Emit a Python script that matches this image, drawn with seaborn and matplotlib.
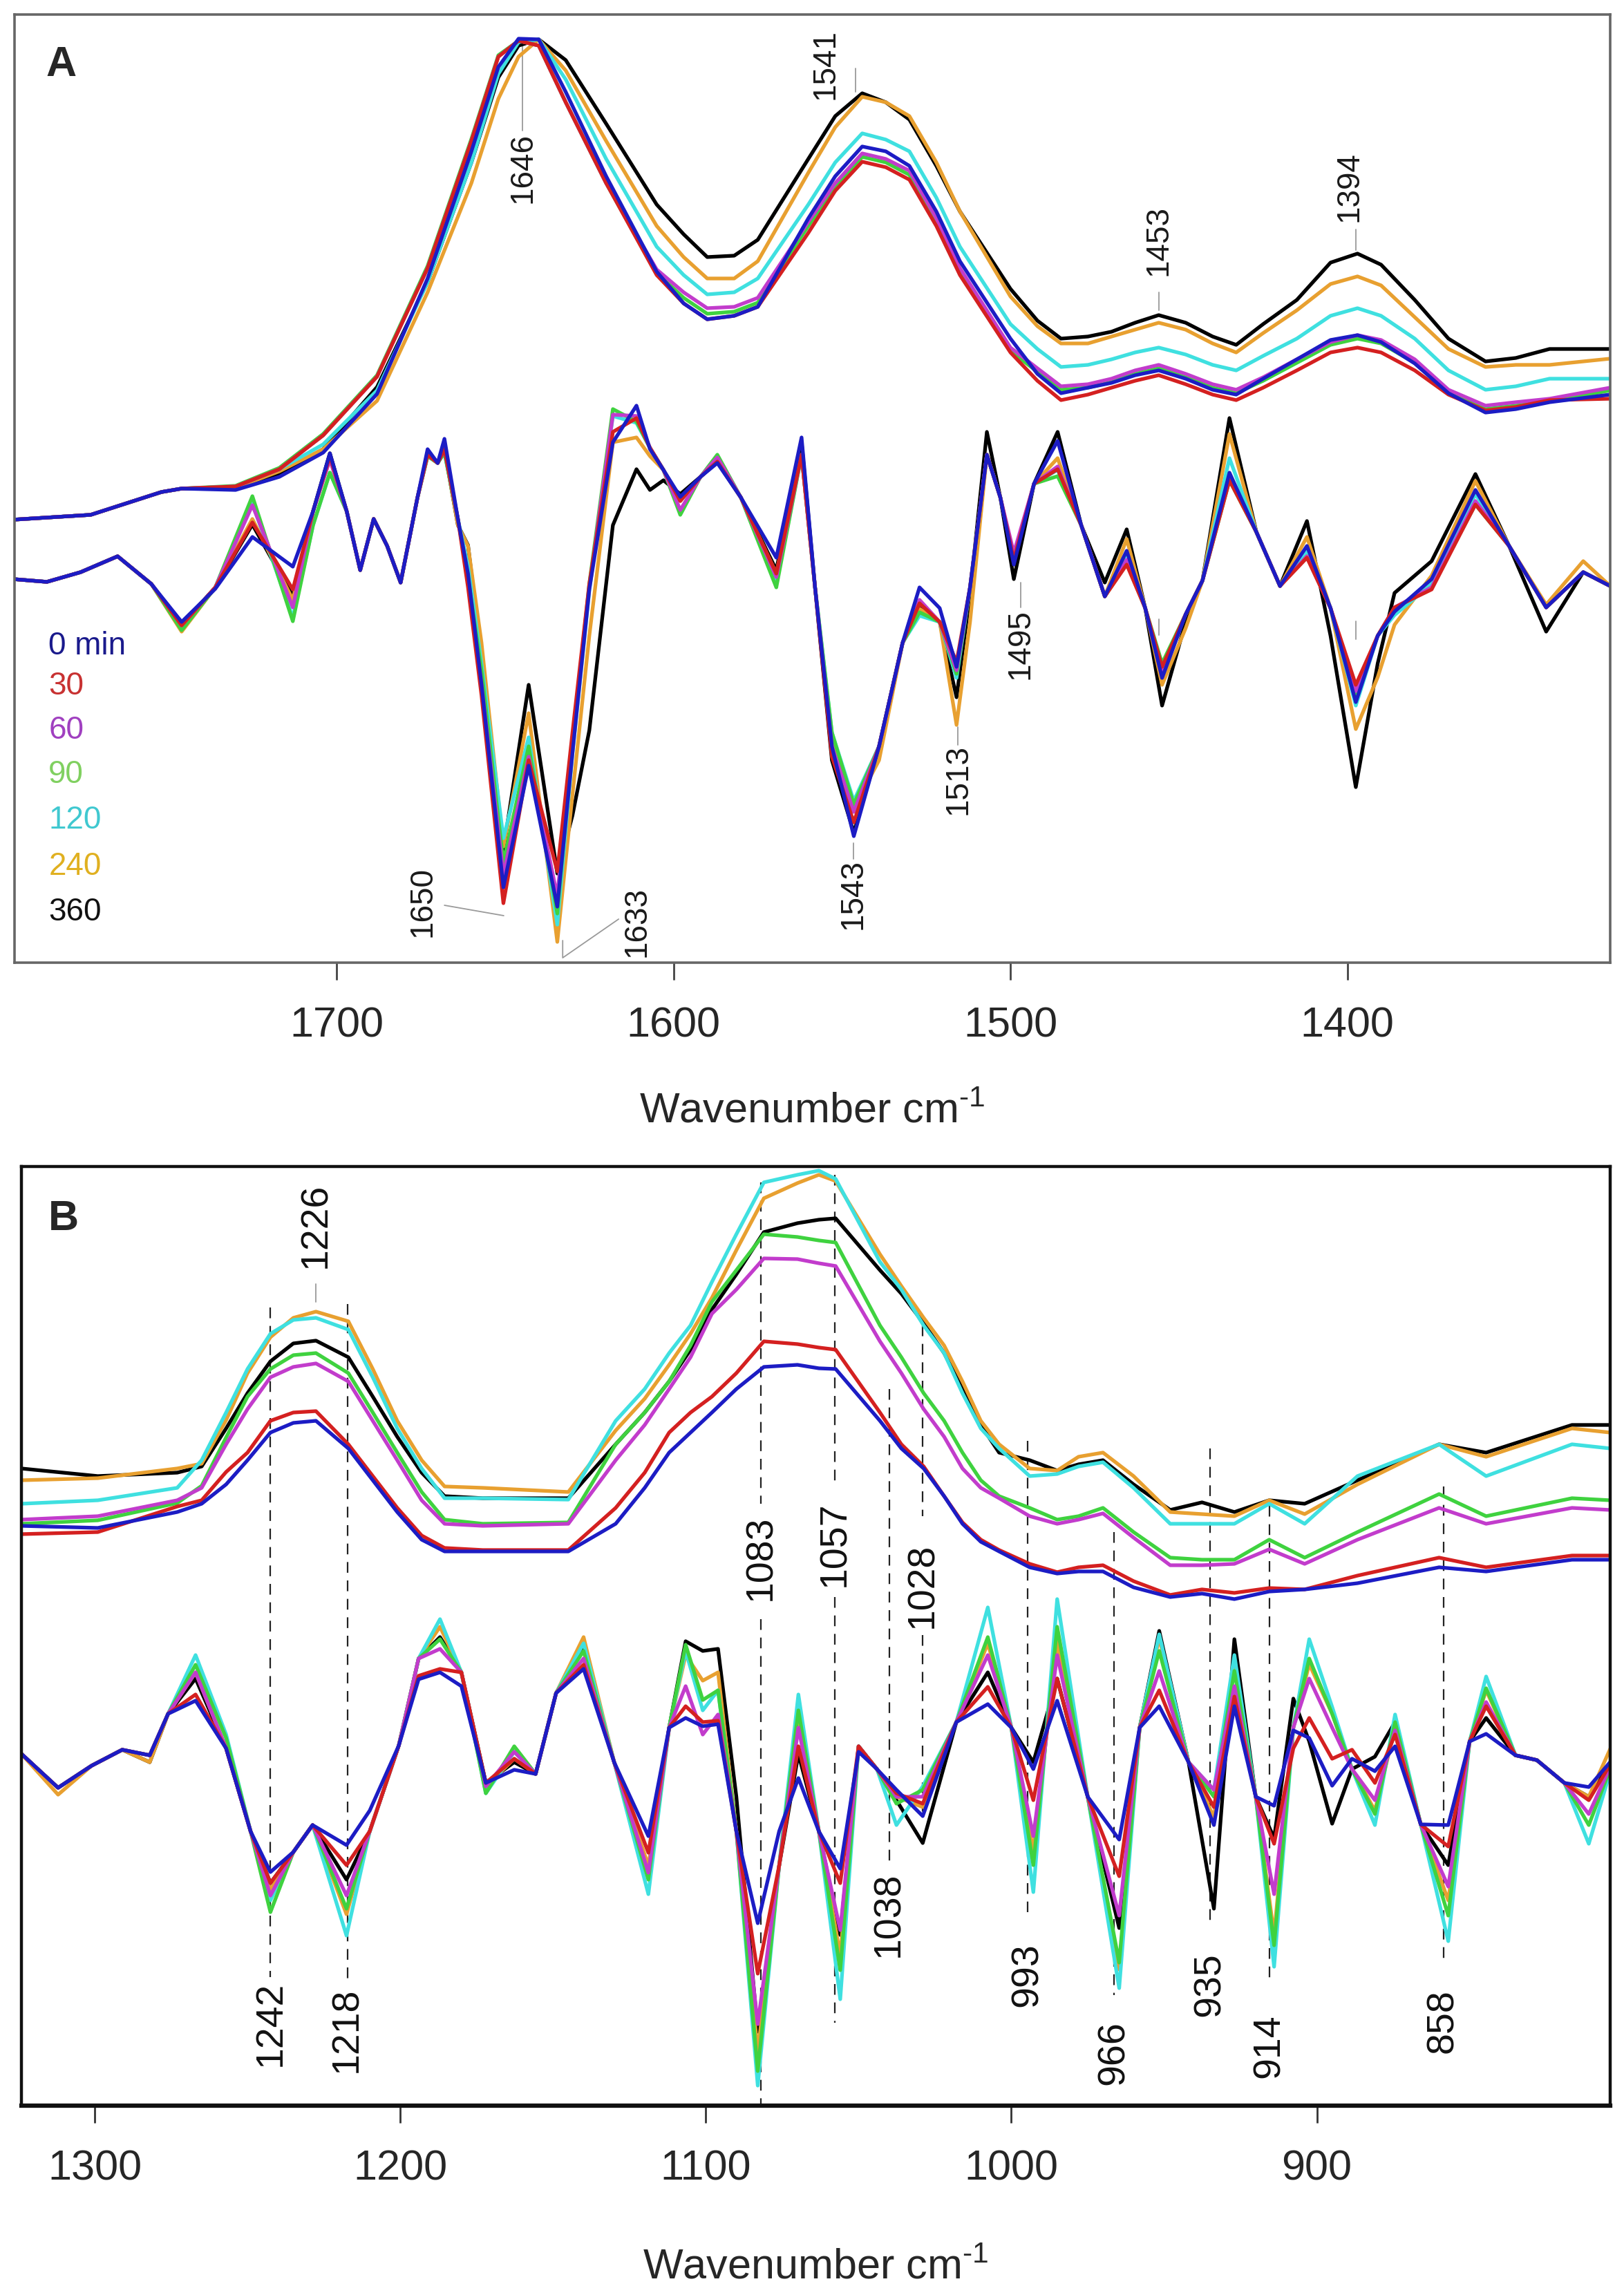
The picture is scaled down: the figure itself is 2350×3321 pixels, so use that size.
import pandas as pd
import matplotlib
matplotlib.use("Agg")
import matplotlib.pyplot as plt
import seaborn as sns

# ---------------- data (absorbance / 2nd derivative, arbitrary units) ----------------
times = ["0 min", "30", "60", "90", "120", "240", "360"]
colors = ["#1c1cc4", "#d42020", "#c23ccc", "#3fd23f", "#3fe0e0", "#e8a030", "#000000"]
legend_colors = ["#1a1a8c", "#c83232", "#a040c0", "#80d060", "#40c8d0", "#e0b020", "#111111"]

# Panel A - amide region, absorbance
wn_a_abs = [1796, 1773, 1752, 1746, 1730, 1717, 1704, 1688, 1673, 1660, 1652, 1646, 1640, 1632, 1620, 1605,
            1597, 1590, 1582, 1575, 1560, 1552, 1544, 1537, 1530, 1522, 1515, 1500, 1492, 1485, 1477, 1470,
            1463, 1456, 1448, 1440, 1433, 1425, 1415, 1405, 1397, 1390, 1380, 1370, 1359, 1350, 1340, 1322]
a_abs_0 = [641, 648, 681, 686, 684, 703, 738, 823, 990, 1174, 1296, 1337, 1336, 1260, 1138, 1000,
           954, 931, 936, 949, 1077, 1138, 1181, 1174, 1153, 1087, 1015, 903, 852, 824, 832, 839,
           850, 857, 845, 829, 822, 845, 873, 901, 908, 898, 867, 824, 796, 801, 811, 822]
a_abs_30 = [641, 648, 681, 686, 689, 714, 763, 848, 1005, 1189, 1311, 1334, 1327, 1245, 1128, 995,
            954, 931, 936, 949, 1056, 1117, 1159, 1151, 1133, 1066, 995, 883, 842, 814, 822, 832,
            842, 850, 837, 822, 814, 832, 857, 883, 890, 883, 857, 822, 799, 804, 814, 816]
a_abs_60 = [641, 648, 681, 686, 689, 714, 763, 848, 1005, 1189, 1311, 1334, 1327, 1245, 1128, 1003,
            970, 947, 949, 962, 1072, 1128, 1171, 1163, 1146, 1077, 1005, 890, 860, 834, 837, 845,
            857, 865, 852, 837, 829, 847, 873, 898, 908, 901, 873, 829, 806, 811, 816, 832]
a_abs_90 = [641, 648, 681, 686, 690, 716, 765, 850, 1008, 1192, 1313, 1334, 1327, 1245, 1128, 998,
            962, 939, 942, 955, 1066, 1122, 1166, 1158, 1140, 1072, 1000, 885, 855, 829, 832, 840,
            852, 860, 847, 832, 824, 842, 868, 894, 903, 896, 868, 824, 801, 806, 812, 828]
a_abs_120 = [641, 648, 681, 686, 689, 714, 750, 828, 985, 1158, 1286, 1332, 1336, 1278, 1163, 1036,
             995, 967, 970, 990, 1097, 1158, 1200, 1191, 1174, 1107, 1036, 924, 888, 862, 865, 873,
             883, 890, 880, 865, 857, 878, 903, 936, 947, 936, 903, 857, 829, 834, 845, 845]
a_abs_240 = [641, 648, 681, 686, 687, 711, 743, 813, 970, 1128, 1250, 1311, 1336, 1291, 1189, 1066,
             1021, 990, 990, 1015, 1143, 1209, 1253, 1245, 1225, 1158, 1087, 964, 921, 896, 896, 906,
             916, 926, 916, 896, 883, 911, 944, 982, 993, 980, 934, 888, 862, 865, 865, 874]
a_abs_360 = [641, 648, 681, 686, 686, 708, 743, 833, 985, 1158, 1281, 1327, 1336, 1306, 1214, 1097,
             1054, 1021, 1023, 1046, 1163, 1225, 1258, 1245, 1220, 1153, 1087, 975, 929, 903, 906, 913,
             926, 937, 926, 906, 894, 924, 959, 1013, 1026, 1010, 959, 903, 870, 875, 888, 888]

# Panel A - second derivative
wn_a_der = [1796, 1786, 1776, 1765, 1755, 1746, 1736, 1725, 1713, 1707, 1702, 1697, 1693, 1689, 1685, 1681,
            1676, 1673, 1670, 1668, 1664, 1661, 1657, 1650.5, 1643, 1634.5, 1630, 1625, 1618, 1611, 1607,
            1603, 1598, 1592, 1587, 1580, 1569.5, 1562, 1558, 1553, 1546.5, 1539, 1532, 1527, 1521, 1516,
            1512, 1507, 1503, 1499, 1493, 1486, 1479, 1472, 1465.5, 1460, 1455, 1448, 1443, 1435, 1427,
            1420, 1412, 1405, 1397.5, 1391, 1386, 1375, 1362, 1352, 1341, 1330, 1322]
a_der_0 = [555, 551, 565, 588, 548, 493, 541, 616, 573, 653, 737, 653, 568, 642, 603, 550, 673, 743, 723, 758,
           642, 563, 403, 109, 285, 81, 303, 540, 753, 806, 743, 713, 674, 703, 723, 673, 586, 760, 543, 313,
           183, 313, 463, 543, 513, 428, 543, 735, 673, 576, 693, 755, 633, 530, 596, 513, 412, 504, 553, 709,
           623, 545, 603, 513, 377, 473, 508, 555, 684, 603, 514, 565, 545]
a_der_30 = [555, 551, 565, 588, 548, 488, 543, 637, 540, 653, 733, 653, 568, 642, 603, 550, 673, 735, 723, 743,
            642, 543, 387, 86, 293, 132, 333, 548, 768, 788, 745, 713, 668, 703, 725, 673, 563, 735, 543, 298,
            203, 313, 463, 520, 493, 435, 543, 735, 673, 583, 693, 714, 633, 530, 576, 513, 428, 504, 553, 698,
            623, 545, 586, 513, 402, 473, 514, 540, 663, 603, 514, 565, 545]
a_der_60 = [555, 551, 565, 588, 548, 488, 543, 662, 514, 653, 728, 653, 568, 642, 603, 550, 673, 735, 723, 743,
            642, 553, 403, 127, 298, 96, 323, 543, 793, 791, 745, 713, 655, 703, 731, 673, 558, 735, 543, 313,
            218, 313, 463, 525, 493, 423, 543, 735, 673, 593, 693, 718, 633, 530, 583, 513, 423, 504, 553, 703,
            623, 545, 588, 513, 393, 473, 514, 543, 668, 603, 514, 565, 545]
a_der_90 = [555, 551, 565, 588, 548, 481, 543, 675, 494, 633, 709, 653, 568, 642, 603, 550, 673, 733, 723, 738,
            642, 558, 423, 145, 313, 71, 318, 548, 801, 783, 745, 713, 648, 703, 735, 673, 543, 735, 543, 333,
            229, 313, 463, 507, 493, 418, 543, 735, 673, 583, 693, 704, 633, 530, 578, 513, 433, 504, 553, 698,
            623, 545, 588, 513, 383, 473, 513, 543, 663, 603, 514, 565, 545]
a_der_120 = [555, 551, 565, 588, 548, 483, 543, 665, 499, 633, 709, 653, 568, 642, 603, 550, 673, 733, 723, 738,
             642, 573, 433, 180, 326, 55, 303, 538, 791, 781, 745, 713, 653, 703, 728, 673, 548, 735, 543, 333,
             234, 313, 463, 502, 493, 412, 543, 735, 673, 583, 693, 713, 633, 530, 593, 513, 418, 504, 553, 730,
             623, 545, 596, 513, 372, 473, 503, 548, 678, 603, 514, 565, 545]
a_der_240 = [555, 551, 565, 588, 548, 479, 543, 642, 525, 653, 728, 653, 568, 642, 603, 550, 673, 733, 723, 743,
             633, 603, 463, 168, 361, 30, 243, 473, 753, 760, 733, 713, 668, 703, 725, 673, 563, 735, 543, 323,
             223, 293, 463, 512, 493, 344, 493, 735, 673, 583, 693, 730, 633, 530, 613, 513, 402, 484, 553, 765,
             623, 545, 616, 513, 338, 413, 489, 560, 697, 603, 518, 581, 545]
a_der_360 = [555, 551, 565, 588, 548, 489, 543, 634, 530, 653, 737, 653, 568, 642, 603, 550, 673, 735, 723, 743,
             633, 604, 443, 163, 402, 129, 213, 336, 633, 714, 684, 698, 678, 703, 725, 673, 568, 753, 543, 293,
             188, 313, 463, 513, 493, 384, 533, 768, 673, 555, 693, 768, 633, 550, 627, 513, 372, 493, 553, 788,
             623, 545, 639, 473, 254, 433, 535, 581, 707, 603, 479, 565, 545]

# Panel B - fingerprint region, absorbance
wn_b_abs = [1324, 1299, 1273, 1265, 1257, 1250, 1242.5, 1235, 1227.6, 1217, 1209, 1201, 1193, 1185.5, 1173,
            1145, 1129.5, 1120, 1112, 1105, 1098, 1090, 1081, 1070, 1063, 1057.5, 1043, 1036, 1028.7, 1022,
            1016, 1010, 1004, 994, 985, 978, 970, 960, 948, 937.6, 927, 915.6, 904, 886.7, 860, 844.6, 816.5, 804]
b_abs_0 = [839, 836, 859, 871, 899, 934, 974, 988, 991, 951, 905, 859, 819, 802, 802, 802, 842, 894, 945, 974,
           1003, 1037, 1069, 1072, 1067, 1066, 991, 951, 922, 882, 842, 816, 802, 779, 770, 773, 773, 750, 736,
           741, 733, 744, 747, 756, 779, 773, 790, 790]
b_abs_30 = [827, 830, 867, 876, 917, 945, 991, 1003, 1005, 957, 911, 865, 825, 807, 804, 804, 865, 916, 974,
            1003, 1026, 1060, 1106, 1102, 1097, 1094, 1003, 957, 925, 882, 844, 819, 804, 784, 772, 779, 782,
            759, 739, 747, 742, 749, 747, 767, 793, 779, 796, 796]
b_abs_60 = [848, 853, 876, 894, 957, 1008, 1054, 1069, 1074, 1048, 991, 934, 876, 842, 839, 842, 934, 985,
            1037, 1083, 1146, 1181, 1226, 1225, 1219, 1215, 1106, 1060, 1008, 968, 922, 894, 879, 853, 842, 848,
            857, 822, 782, 782, 784, 805, 784, 819, 865, 842, 865, 862]
b_abs_90 = [842, 847, 872, 897, 967, 1026, 1066, 1086, 1089, 1060, 1003, 945, 888, 848, 842, 844, 957, 1003,
            1048, 1100, 1163, 1209, 1261, 1257, 1252, 1249, 1129, 1083, 1031, 991, 945, 905, 882, 865, 848, 853,
            865, 830, 793, 790, 790, 819, 793, 830, 885, 853, 879, 876]
b_abs_120 = [871, 876, 894, 934, 1003, 1066, 1117, 1137, 1140, 1123, 1054, 980, 922, 879, 879, 877, 991, 1037,
             1089, 1129, 1192, 1261, 1336, 1347, 1353, 1341, 1221, 1181, 1129, 1089, 1031, 980, 951, 911, 914,
             925, 931, 894, 842, 842, 842, 871, 842, 911, 957, 911, 957, 951]
b_abs_240 = [905, 908, 922, 929, 992, 1060, 1112, 1140, 1149, 1135, 1066, 991, 934, 896, 894, 888, 977, 1023,
             1072, 1117, 1169, 1238, 1313, 1335, 1347, 1338, 1232, 1186, 1140, 1100, 1048, 991, 957, 922, 919,
             939, 945, 911, 859, 856, 853, 876, 856, 899, 957, 939, 980, 974]
b_abs_360 = [922, 911, 916, 925, 980, 1031, 1077, 1103, 1107, 1083, 1026, 968, 916, 882, 879, 879, 957, 1003,
             1048, 1094, 1152, 1203, 1264, 1277, 1282, 1284, 1209, 1175, 1132, 1089, 1037, 985, 945, 934, 919,
             928, 934, 899, 862, 873, 859, 876, 871, 905, 957, 945, 985, 985]

# Panel B - second derivative
wn_b_der = [1324, 1312, 1301, 1291, 1282, 1276, 1267, 1257, 1249, 1242.5, 1235, 1228.7, 1217.6, 1210, 1200.5,
            1194, 1187, 1180, 1172, 1162.7, 1155.7, 1149, 1140, 1130, 1118.8, 1112, 1106.6, 1101, 1096, 1090,
            1083, 1076, 1069.7, 1063, 1056, 1050, 1044, 1037.6, 1029, 1018, 1007.7, 1000, 992.8, 985, 975,
            964.7, 958, 951.6, 942, 933.7, 927, 920, 914, 907.7, 902.5, 895, 888.5, 881, 874.4, 866, 857, 850,
            844.6, 835, 828, 819, 811, 802.5]
b_der_0 = [509, 460, 492, 515, 507, 567, 586, 517, 397, 338, 367, 406, 377, 427, 521, 617, 627, 607, 467, 486,
           480, 597, 632, 497, 390, 547, 561, 549, 552, 397, 264, 397, 474, 397, 343, 512, 487, 457, 419, 555,
           581, 547, 487, 586, 447, 385, 547, 578, 497, 406, 578, 447, 434, 543, 532, 463, 502, 484, 520, 407,
           406, 527, 538, 507, 500, 467, 461, 505]
b_der_30 = [509, 460, 492, 515, 507, 567, 595, 517, 397, 322, 367, 406, 348, 397, 521, 622, 632, 627, 467, 502,
            480, 597, 638, 497, 366, 547, 578, 555, 557, 397, 191, 347, 520, 397, 322, 520, 487, 452, 437, 555,
            606, 547, 442, 618, 447, 332, 547, 601, 497, 432, 592, 447, 379, 517, 561, 502, 515, 467, 537, 407,
            375, 527, 578, 507, 500, 467, 442, 505]
b_der_60 = [509, 460, 492, 515, 507, 567, 627, 517, 397, 304, 367, 406, 304, 397, 521, 647, 661, 627, 462, 512,
            480, 597, 647, 497, 337, 547, 607, 537, 566, 397, 118, 347, 547, 397, 254, 520, 487, 447, 447, 555,
            652, 547, 390, 652, 447, 275, 547, 629, 497, 457, 607, 447, 306, 547, 618, 547, 487, 442, 543, 407,
            317, 527, 584, 507, 500, 467, 422, 505]
b_der_90 = [509, 460, 492, 515, 507, 567, 638, 532, 397, 280, 367, 406, 285, 397, 521, 647, 675, 627, 452, 520,
            480, 597, 658, 497, 327, 547, 667, 587, 601, 397, 50, 347, 572, 397, 196, 520, 487, 437, 457, 555,
            678, 547, 348, 693, 447, 207, 547, 658, 497, 447, 629, 447, 232, 547, 647, 567, 487, 422, 555, 407,
            275, 527, 604, 507, 500, 467, 406, 505]
b_der_120 = [509, 460, 492, 515, 507, 567, 652, 537, 397, 297, 367, 406, 246, 397, 521, 647, 704, 627, 452, 512,
             480, 597, 669, 497, 306, 547, 658, 572, 601, 397, 29, 347, 595, 397, 154, 520, 487, 406, 462, 555,
             721, 547, 309, 733, 447, 170, 547, 682, 497, 457, 652, 447, 201, 547, 675, 577, 487, 406, 566, 407,
             238, 527, 621, 507, 500, 467, 379, 505]
b_der_240 = [509, 450, 492, 515, 497, 567, 627, 517, 397, 312, 367, 406, 277, 397, 521, 647, 693, 627, 462, 502,
             480, 597, 678, 497, 347, 547, 652, 615, 627, 397, 77, 347, 557, 397, 217, 520, 487, 447, 432, 555,
             669, 547, 367, 672, 447, 197, 547, 677, 497, 417, 637, 447, 247, 547, 639, 567, 487, 427, 547, 407,
             297, 527, 601, 507, 500, 467, 447, 531]
b_der_360 = [509, 460, 492, 515, 497, 567, 618, 517, 397, 322, 367, 406, 327, 397, 521, 647, 678, 627, 467, 497,
             480, 597, 661, 497, 343, 547, 672, 658, 661, 447, 107, 347, 509, 397, 247, 520, 487, 442, 380, 555,
             627, 547, 497, 618, 447, 257, 547, 687, 497, 285, 675, 447, 387, 589, 527, 408, 487, 505, 555, 407,
             348, 527, 561, 507, 500, 467, 447, 505]

# band labels, panel A: (text, wn, height)
a_labels = [("1646", 1644.8, 1150), ("1541", 1555, 1300), ("1453", 1456, 1045), ("1394", 1399.5, 1123),
            ("1650", 1674.4, 88), ("1633", 1610.8, 59), ("1543", 1546.6, 99), ("1513", 1515.6, 265),
            ("1495", 1497, 461)]
a_leaders = [([1644.8, 1644.8], [1337, 1204]), ([1546, 1546], [1294, 1260]), ([1456, 1456], [970, 944]),
             ([1397.5, 1397.5], [1061, 1031]), ([1668, 1650.4], [83, 68]),
             ([1632.9, 1632.9, 1616.3], [32, 7, 63]), ([1546.6, 1546.6], [173, 150]),
             ([1515.6, 1515.6], [341, 315]), ([1497, 1497], [550, 514]),
             ([1456, 1456], [497, 474]), ([1397.5, 1397.5], [494, 468])]

# band labels, panel B: (text, wn, label height, dashed segments)
b_bands = [("1242", 1242.5, 119, [(1155, 186)]), ("1218", 1217.3, 110, [(1160, 179)]),
           ("1083", 1082, 793, [(1336, 871), (704, 0)]), ("1057", 1057.7, 813, [(1347, 894), (736, 120)]),
           ("1038", 1040, 277, [(1037, 345)]), ("1028", 1029, 753, [(1129, 853), (681, 420)]),
           ("993", 994.6, 189, [(962, 280)]), ("966", 966.5, 76, [(830, 160)]),
           ("935", 935, 175, [(951, 267)]), ("914", 915.6, 86, [(868, 181)]),
           ("858", 858.6, 122, [(896, 212)])]

# ---------------- build long tables ----------------
def long_table(grid, series, trace):
    parts = []
    for t, vals in zip(times, series):
        parts.append(pd.DataFrame({"wn": grid, "h": vals, "time": t, "trace": trace}))
    return pd.concat(parts, ignore_index=True)

df_a = pd.concat([
    long_table(wn_a_abs, [a_abs_0, a_abs_30, a_abs_60, a_abs_90, a_abs_120, a_abs_240, a_abs_360], "abs"),
    long_table(wn_a_der, [a_der_0, a_der_30, a_der_60, a_der_90, a_der_120, a_der_240, a_der_360], "der"),
], ignore_index=True)
df_b = pd.concat([
    long_table(wn_b_abs, [b_abs_0, b_abs_30, b_abs_60, b_abs_90, b_abs_120, b_abs_240, b_abs_360], "abs"),
    long_table(wn_b_der, [b_der_0, b_der_30, b_der_60, b_der_90, b_der_120, b_der_240, b_der_360], "der"),
], ignore_index=True)

palette = dict(zip(times, colors))
draw_order = times[::-1]  # blue drawn last, on top

# ---------------- figure ----------------
sns.set_theme(style="ticks")
plt.rcParams["font.family"] = ["Liberation Sans", "DejaVu Sans"]
plt.rcParams["mathtext.fontset"] = "custom"
plt.rcParams["mathtext.rm"] = "Liberation Sans"

xlabel = "Wavenumber cm$^{\\mathregular{\u2010" + "1}}$"

fig = plt.figure(figsize=(23.5, 33.21), dpi=100)
ax_a = fig.add_axes([0.00894, 0.58055, 0.98255, 0.41313])
ax_b = fig.add_axes([0.01319, 0.08251, 0.97830, 0.40921])

for ax, df in [(ax_a, df_a), (ax_b, df_b)]:
    sns.lineplot(data=df, x="wn", y="h", hue="time", units="trace", estimator=None,
                 hue_order=draw_order, palette=palette, linewidth=3.8, legend=False, ax=ax)
    ax.set_yticks([])
    ax.set_ylabel("")
    ax.tick_params(axis="x", direction="out", length=18, width=2, labelsize=44, pad=28)
    ax.set_xlabel(xlabel, fontsize=44)

# panel A axes
ax_a.set_xlim(1795.6, 1322)
ax_a.set_ylim(0, 1372)
ax_a.set_xticks([1700, 1600, 1500, 1400])
ax_a.xaxis.labelpad = 48
ax_a.tick_params(axis="x", color="#444444")
for s in ax_a.spines.values():
    s.set_color("#666666")
    s.set_linewidth(2.6)

# panel B axes
ax_b.set_xlim(1324, 804)
ax_b.set_ylim(0, 1359)
ax_b.set_xticks([1300, 1200, 1100, 1000, 900])
ax_b.xaxis.labelpad = 62
ax_b.tick_params(axis="x", color="#333333")
for s in ax_b.spines.values():
    s.set_color("#111111")
    s.set_linewidth(3.2)
ax_b.spines["bottom"].set_linewidth(4.5)

# panel letters
ax_a.text(0.0195, 0.935, "A", transform=ax_a.transAxes, fontsize=44, fontweight="bold", va="baseline")
ax_b.text(0.017, 0.932, "B", transform=ax_b.transAxes, fontsize=44, fontweight="bold", va="baseline")

# time labels in panel A
legend_h = [458, 400, 336, 272, 206, 139, 73]
for t, c, h in zip(times, legend_colors, legend_h):
    ax_a.text(1785.5, h, t, color=c, fontsize=33, ha="left", va="center")

# panel A band labels
for xs, hs in a_leaders:
    ax_a.plot(xs, hs, color="#9a9a9a", lw=1.3, zorder=1)
for txt, x, h in a_labels:
    ax_a.text(x, h, txt, rotation=90, fontsize=33, ha="center", va="center", color="#1a1a1a")

# panel B band labels and dashed guides
for txt, x, h, segs in b_bands:
    for top, bot in segs:
        ax_b.plot([x, x], [top, bot], color="#222222", lw=1.6, ls=(0, (7, 5)), zorder=1)
    ax_b.text(x, h, txt, rotation=90, fontsize=40, ha="center", va="center", color="#111111")
ax_b.plot([1227.6, 1227.6], [1189, 1163], color="#9a9a9a", lw=1.3, zorder=1)
ax_b.text(1227.6, 1274, "1226", rotation=90, fontsize=40, ha="center", va="center", color="#111111")

fig.savefig("out.png", dpi=100, facecolor="white")
